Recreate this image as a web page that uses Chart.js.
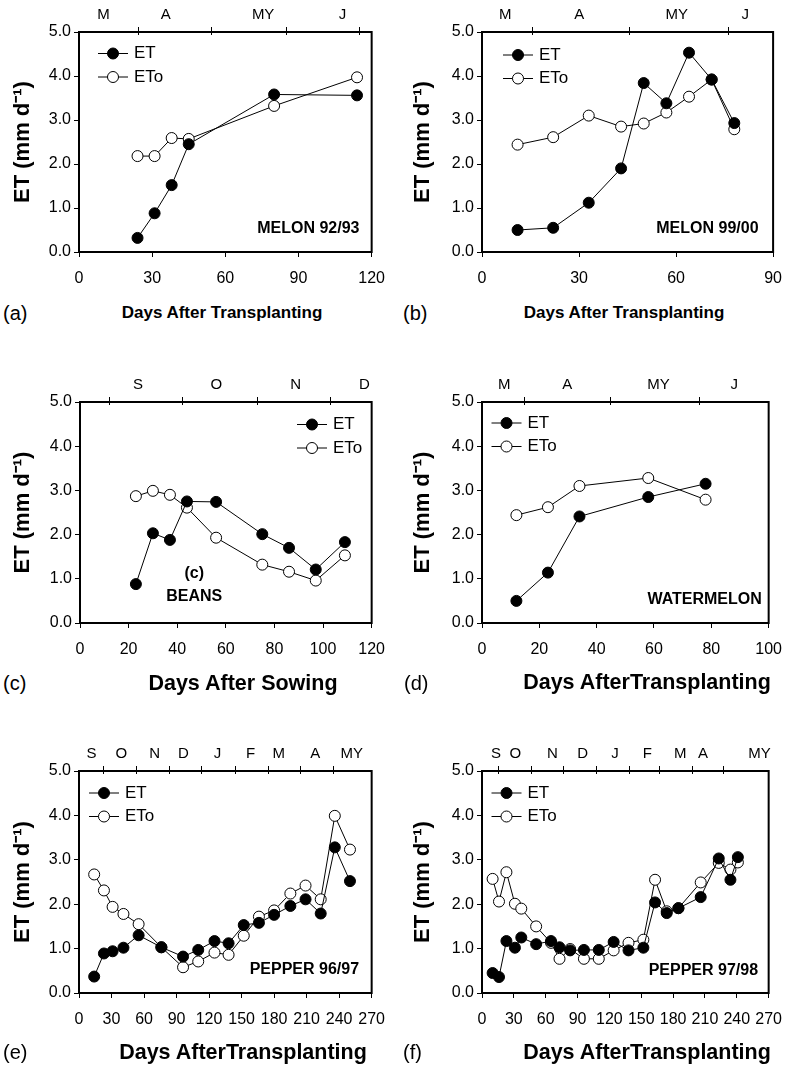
<!DOCTYPE html>
<html>
<head>
<meta charset="utf-8">
<script src="https://cdn.jsdelivr.net/npm/chart.js@4.4.1/dist/chart.umd.min.js"></script>
<style>
  body { margin: 0; background: #fff; }
  #page { position: relative; width: 794px; height: 1065px; font-family: 'Liberation Sans', Arial, sans-serif; color: #000; }
  canvas { position: absolute; }
  .xt { position: absolute; font-weight: bold; transform: translate(-50%, -50%); white-space: nowrap; }
  .tag { position: absolute; font-size: 20px; transform: translateY(-50%); }
</style>
</head>
<body>
<div id="page">
  <canvas id="pa" width="397" height="300" style="left:0;top:0"></canvas>
  <canvas id="pb" width="397" height="300" style="left:397px;top:0"></canvas>
  <canvas id="pc" width="397" height="301" style="left:0;top:370px"></canvas>
  <canvas id="pd" width="397" height="301" style="left:397px;top:370px"></canvas>
  <canvas id="pe" width="397" height="302" style="left:0;top:739px"></canvas>
  <canvas id="pf" width="397" height="302" style="left:397px;top:739px"></canvas>

  <div class="tag" style="left:3px;top:313px">(a)</div>
  <div class="xt" style="left:222px;top:313px;font-size:17px">Days After Transplanting</div>
  <div class="tag" style="left:403px;top:313px">(b)</div>
  <div class="xt" style="left:624px;top:313px;font-size:17px">Days After Transplanting</div>
  <div class="tag" style="left:3px;top:683px">(c)</div>
  <div class="xt" style="left:243px;top:683px;font-size:21.5px">Days After Sowing</div>
  <div class="tag" style="left:404px;top:683px">(d)</div>
  <div class="xt" style="left:647px;top:682px;font-size:21.5px">Days AfterTransplanting</div>
  <div class="tag" style="left:3px;top:1052px">(e)</div>
  <div class="xt" style="left:243px;top:1052px;font-size:21.5px">Days AfterTransplanting</div>
  <div class="tag" style="left:403px;top:1052px">(f)</div>
  <div class="xt" style="left:647px;top:1052px;font-size:21.5px">Days AfterTransplanting</div>
</div>
<script>
// (a) melon 92/93
const melon92Days = [24, 31, 38, 45, 80, 114];
const melon92ET = [0.32, 0.88, 1.52, 2.45, 3.58, 3.56];
const melon92ETo = [2.18, 2.18, 2.59, 2.57, 3.32, 3.97];
const melon92Months = ['M', 'A', 'MY', 'J'];
const melon92MonthAt = [10, 35.6, 75.5, 108];
const melon92Bounds = [24, 54, 85, 115];

// (b) melon 99/00
const melon99Days = [11, 22, 33, 43, 50, 57, 64, 71, 78];
const melon99ET = [0.50, 0.55, 1.12, 1.90, 3.84, 3.38, 4.53, 3.92, 2.93];
const melon99ETo = [2.44, 2.61, 3.10, 2.85, 2.92, 3.17, 3.53, 3.92, 2.79];
const melon99Months = ['M', 'A', 'MY', 'J'];
const melon99MonthAt = [7.2, 30.1, 60.2, 81.4];
const melon99Bounds = [15.5, 45.3, 76.2];

// (c) beans
const beansDays = [23, 30, 37, 44, 56, 75, 86, 97, 109];
const beansET = [0.88, 2.03, 1.88, 2.75, 2.74, 2.01, 1.70, 1.21, 1.83];
const beansETo = [2.87, 2.99, 2.90, 2.61, 1.93, 1.32, 1.16, 0.96, 1.53];
const beansMonths = ['S', 'O', 'N', 'D'];
const beansMonthAt = [23.9, 56.1, 88.7, 117];
const beansBounds = [12, 42, 73, 103];

// (d) watermelon
const wmDays = [12, 23, 34, 58, 78];
const wmET = [0.50, 1.14, 2.41, 2.85, 3.15];
const wmETo = [2.44, 2.62, 3.10, 3.28, 2.79];
const wmMonths = ['M', 'A', 'MY', 'J'];
const wmMonthAt = [7.8, 29.7, 61.6, 88];
const wmBounds = [14.8, 44.5, 75.6];

// (e) pepper 96/97
const pep96Days = [14, 23, 31, 41, 55, 76, 96, 110, 125, 138, 152, 166, 180, 195, 209, 223, 236, 250];
const pep96ET = [0.37, 0.89, 0.94, 1.02, 1.30, 1.03, 0.82, 0.97, 1.17, 1.12, 1.53, 1.58, 1.76, 1.96, 2.11, 1.79, 3.28, 2.52];
const pep96ETo = [2.67, 2.31, 1.94, 1.78, 1.55, 1.03, 0.58, 0.71, 0.91, 0.86, 1.29, 1.72, 1.86, 2.24, 2.42, 2.11, 3.99, 3.23];
const pep96Months = ['S', 'O', 'N', 'D', 'J', 'F', 'M', 'A', 'MY'];
const pep96MonthAt = [11.6, 39.1, 69.7, 96.3, 127.8, 158.4, 184.4, 218, 251.7];
const pep96Bounds = [22, 53, 83, 113, 144, 174, 204, 234];

// (f) pepper 97/98
const pep97Days = [10, 16, 23, 31, 37, 51, 65, 73, 83, 96, 110, 124, 138, 152, 163, 174, 185, 206, 223, 234, 241];
const pep97ET = [0.45, 0.36, 1.17, 1.02, 1.25, 1.10, 1.17, 1.03, 0.96, 0.97, 0.97, 1.15, 0.96, 1.02, 2.04, 1.80, 1.91, 2.16, 3.03, 2.55, 3.06];
const pep97ETo = [2.57, 2.06, 2.72, 2.01, 1.90, 1.50, 1.13, 0.77, 0.99, 0.77, 0.77, 0.96, 1.13, 1.20, 2.55, 1.84, 1.91, 2.49, 2.93, 2.78, 2.94];
const pep97Months = ['S', 'O', 'N', 'D', 'J', 'F', 'M', 'A', 'MY'];
const pep97MonthAt = [13.1, 31.4, 66.4, 94.8, 125.2, 155.7, 186.8, 208.1, 261.4];
const pep97Bounds = [15.5, 46.1, 76.5, 107, 138, 167, 197.5, 227.1];

Chart.defaults.font.family = "'Liberation Sans', Arial, sans-serif";
Chart.defaults.color = '#000';

// frame, month ticks on top edge, inset legend and crop label
const decor = {
  id: 'decor',
  afterDatasetsDraw(chart, args, o) {
    const ctx = chart.ctx, a = chart.chartArea;
    const x = chart.scales.x, y = chart.scales.y;
    ctx.save();
    ctx.strokeStyle = '#000';
    ctx.lineWidth = 1;
    o.bounds.forEach(v => {
      const px = Math.round(x.getPixelForValue(v)) + 0.5;
      ctx.beginPath();
      ctx.moveTo(px, a.top - 5);
      ctx.lineTo(px, a.top + 3);
      ctx.stroke();
    });
    ctx.lineWidth = 2;
    ctx.strokeRect(a.left, a.top, a.right - a.left, a.bottom - a.top);

    const lx = a.left + o.legend[0], ly = a.top + o.legend[1];
    ctx.font = "17px 'Liberation Sans', Arial, sans-serif";
    ctx.textAlign = 'left';
    ctx.textBaseline = 'middle';
    chart.data.datasets.forEach((ds, i) => {
      const cy = ly + i * 23.5;
      ctx.lineWidth = 1;
      ctx.beginPath();
      ctx.moveTo(lx - 15, cy);
      ctx.lineTo(lx + 15, cy);
      ctx.stroke();
      ctx.beginPath();
      ctx.arc(lx, cy, 5.5, 0, Math.PI * 2);
      ctx.fillStyle = ds.pointBackgroundColor;
      ctx.fill();
      ctx.stroke();
      ctx.fillStyle = '#000';
      ctx.fillText(ds.label, lx + 21, cy);
    });

    ctx.font = "bold 16px 'Liberation Sans', Arial, sans-serif";
    o.notes.forEach(n => {
      ctx.textAlign = n.align;
      ctx.fillText(n.text, x.getPixelForValue(n.x), y.getPixelForValue(n.y));
    });
    ctx.restore();
  }
};

function series(label, days, vals, fill) {
  return {
    label: label,
    data: days.map((d, i) => ({ x: d, y: vals[i] })),
    borderColor: '#000',
    borderWidth: 1,
    pointRadius: 5.5,
    pointHoverRadius: 5.5,
    pointBorderWidth: 1,
    pointBorderColor: '#000',
    pointBackgroundColor: fill,
    tension: 0
  };
}

function panel(id, o) {
  new Chart(document.getElementById(id), {
    type: 'line',
    data: {
      datasets: [
        series('ET', o.days, o.et, '#000'),
        series('ETo', o.days, o.eto, '#fff')
      ]
    },
    plugins: [decor],
    options: {
      responsive: false,
      animation: false,
      layout: { padding: { left: o.padL, right: o.padR, top: 0, bottom: 0 } },
      plugins: {
        legend: { display: false },
        tooltip: { enabled: false },
        decor: { bounds: o.bounds, legend: o.legend, notes: o.notes }
      },
      scales: {
        x: {
          type: 'linear', position: 'bottom', min: 0, max: o.xMax,
          afterFit: s => { s.height = 48; },
          ticks: { stepSize: o.xStep, autoSkip: false, maxRotation: 0, padding: 12, font: { size: 16 } },
          grid: { drawOnChartArea: false, tickLength: 5, color: '#000' },
          border: { display: false }
        },
        top: {
          type: 'linear', position: 'top', min: 0, max: o.xMax,
          afterFit: s => { s.height = 32; },
          afterBuildTicks: s => { s.ticks = o.monthAt.map(v => ({ value: v })); },
          ticks: { autoSkip: false, maxRotation: 0, padding: 8, font: { size: 15 },
                   callback: (v, i) => o.months[i] },
          grid: { display: false, drawTicks: false },
          border: { display: false }
        },
        y: {
          min: 0, max: 5,
          afterFit: s => { s.width = o.yWidth; },
          ticks: { stepSize: 1, padding: 3, font: { size: 16 }, callback: v => v.toFixed(1) },
          grid: { drawOnChartArea: false, tickLength: 5, color: '#000' },
          border: { display: false },
          title: { display: true, text: 'ET (mm d⁻¹)', font: { size: 22, weight: 'bold' },
                   padding: { top: 4, bottom: 0 } }
        }
      }
    }
  });
}

panel('pa', {
  days: melon92Days, et: melon92ET, eto: melon92ETo,
  months: melon92Months, monthAt: melon92MonthAt, bounds: melon92Bounds,
  xMax: 120, xStep: 30, padL: 6, yWidth: 73, padR: 24,
  legend: [34, 21.5],
  notes: [{ text: 'MELON 92/93', x: 115, y: 0.54, align: 'right' }]
});
panel('pb', {
  days: melon99Days, et: melon99ET, eto: melon99ETo,
  months: melon99Months, monthAt: melon99MonthAt, bounds: melon99Bounds,
  xMax: 90, xStep: 30, padL: 9, yWidth: 76, padR: 16,
  legend: [36, 23],
  notes: [{ text: 'MELON 99/00', x: 85.5, y: 0.53, align: 'right' }]
});
panel('pc', {
  days: beansDays, et: beansET, eto: beansETo,
  months: beansMonths, monthAt: beansMonthAt, bounds: beansBounds,
  xMax: 120, xStep: 20, padL: 6, yWidth: 74, padR: 24,
  legend: [232, 22.5],
  notes: [{ text: '(c)', x: 47, y: 1.12, align: 'center' },
          { text: 'BEANS', x: 47, y: 0.60, align: 'center' }]
});
panel('pd', {
  days: wmDays, et: wmET, eto: wmETo,
  months: wmMonths, monthAt: wmMonthAt, bounds: wmBounds,
  xMax: 100, xStep: 20, padL: 9, yWidth: 76, padR: 16,
  legend: [24.5, 21],
  notes: [{ text: 'WATERMELON', x: 97.6, y: 0.53, align: 'right' }]
});
panel('pe', {
  days: pep96Days, et: pep96ET, eto: pep96ETo,
  months: pep96Months, monthAt: pep96MonthAt, bounds: pep96Bounds,
  xMax: 270, xStep: 30, padL: 6, yWidth: 73, padR: 24,
  legend: [25, 22],
  notes: [{ text: 'PEPPER 96/97', x: 258.4, y: 0.52, align: 'right' }]
});
panel('pf', {
  days: pep97Days, et: pep97ET, eto: pep97ETo,
  months: pep97Months, monthAt: pep97MonthAt, bounds: pep97Bounds,
  xMax: 270, xStep: 30, padL: 9, yWidth: 76, padR: 17,
  legend: [24.5, 22],
  notes: [{ text: 'PEPPER 97/98', x: 260, y: 0.50, align: 'right' }]
});
</script>
</body>
</html>
